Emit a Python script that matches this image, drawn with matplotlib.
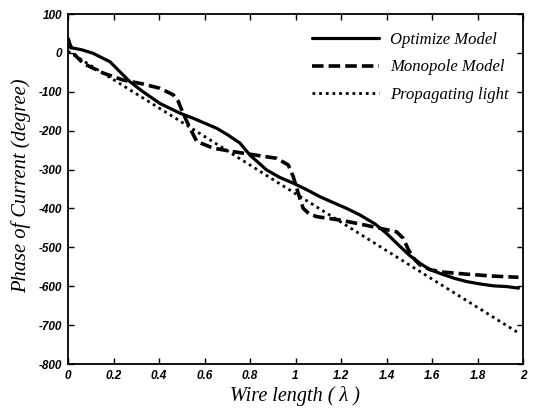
import matplotlib
matplotlib.use("Agg")
import matplotlib.pyplot as plt

# Optimize Model (solid)
opt_x = [0.0, 0.016, 0.06, 0.11, 0.185, 0.236, 0.272, 0.33, 0.404, 0.492, 0.55, 0.654, 0.70,
         0.756, 0.80, 0.873, 0.93, 0.99, 1.05, 1.108, 1.166, 1.225, 1.284, 1.35, 1.40, 1.46,
         1.50, 1.547, 1.59, 1.635, 1.70, 1.752, 1.81, 1.87, 1.93, 1.98]
opt_y = [17, 13, 8, -1, -23, -53, -74, -100, -130, -155, -168, -194, -210,
         -232, -263, -301, -320, -335, -352, -370, -385, -400, -417, -440, -464, -498,
         -520, -541, -557, -567, -580, -588, -594, -599, -601, -605]

# Monopole Model (dashed)
mono_x = [0.0, 0.008, 0.03, 0.067, 0.155, 0.243, 0.33, 0.404, 0.463, 0.485, 0.50, 0.529, 0.566,
          0.639, 0.727, 0.815, 0.917, 0.968, 0.99, 1.012, 1.034, 1.06, 1.093, 1.196, 1.284,
          1.371, 1.444, 1.474, 1.497, 1.525, 1.547, 1.59, 1.635, 1.752, 1.87, 1.98]
mono_y = [38, 22, -5, -27, -52, -70, -80, -91, -108, -125, -147, -185, -228,
          -245, -254, -262, -271, -288, -318, -361, -400, -414, -421, -430, -440,
          -451, -460, -477, -507, -532, -545, -557, -563, -569, -574, -577]

# Propagating light (dotted)
prop_x = [0.0, 0.5, 1.0, 1.5, 1.98]
prop_y = [4, -178, -362, -545, -720]

xticks = [0, 0.2, 0.4, 0.6, 0.8, 1, 1.2, 1.4, 1.6, 1.8, 2]
xtick_labels = ["0", "0.2", "0.4", "0.6", "0.8", "1", "1.2", "1.4", "1.6", "1.8", "2"]
yticks = [100, 0, -100, -200, -300, -400, -500, -600, -700, -800]
ytick_labels = ["100", "0", "-100", "-200", "-300", "-400", "-500", "-600", "-700", "-800"]

fig = plt.figure(figsize=(5.35, 4.11), dpi=100)
ax = fig.add_axes([68/535, 1 - 364/411, (523-68)/535, (364-14)/411])

ax.plot(opt_x, opt_y, color="black", lw=2.3, solid_capstyle="round", solid_joinstyle="round",
        label="Optimize Model")
ax.plot(mono_x, mono_y, color="black", lw=2.6, linestyle=(0, (3.2, 1.4)), label="Monopole Model")
ax.plot(prop_x, prop_y, color="black", lw=2.0, linestyle=(0, (1, 1.4)), label="Propagating light")

ax.set_xlim(0, 2)
ax.set_ylim(-800, 100)
ax.set_xticks(xticks)
ax.set_xticklabels(xtick_labels)
ax.set_yticks(yticks)
ax.set_yticklabels(ytick_labels)

for lab in ax.get_xticklabels() + ax.get_yticklabels():
    lab.set_fontfamily("Liberation Sans")
    lab.set_fontweight("bold")
    lab.set_fontstyle("italic")
    lab.set_fontsize(8.5)

ax.tick_params(direction="in", top=True, right=True, length=4, width=1, pad=4)
for s in ax.spines.values():
    s.set_linewidth(1.3)

ax.set_xlabel("Wire length ( λ )", family="Liberation Serif", style="italic", fontsize=14.5, labelpad=3)
ax.set_ylabel("Phase of Current (degree)", family="Liberation Serif", style="italic", fontsize=14.8, labelpad=3)
ax.yaxis.set_label_coords(-0.08, 0.51)

leg = ax.legend(loc="upper right", bbox_to_anchor=(1 - 8/455, 1 - 11/350), borderaxespad=0,
                frameon=False, handlelength=4.0, handletextpad=0.66, labelspacing=0.7,
                prop=dict(family="Liberation Serif", style="italic", size=12))

fig.savefig("out.png", dpi=100)
